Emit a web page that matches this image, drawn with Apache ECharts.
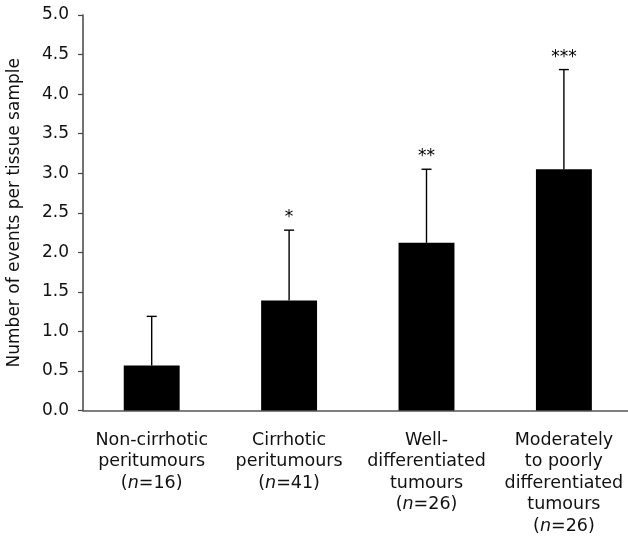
<!DOCTYPE html>
<html><head><meta charset="utf-8">
<script src="https://cdn.jsdelivr.net/npm/echarts@6/dist/echarts.min.js"></script>
<style>html,body{margin:0;padding:0;background:#fff}#c{width:628px;height:541px}</style>
</head><body><div id="c"></div>
<script>
var categories = ['Non-cirrhotic\nperitumours', 'Cirrhotic\nperitumours', 'Well-\ndifferentiated\ntumours', 'Moderately\nto poorly\ndifferentiated\ntumours'];
var sampleSizes = ['16', '41', '26', '26'];
var means = [0.57, 1.39, 2.12, 3.05];
var errorTops = [1.19, 2.28, 3.05, 4.31];
var stars = ['', '*', '**', '***'];
var yTicks = [0, 0.5, 1, 1.5, 2, 2.5, 3, 3.5, 4, 4.5, 5];

var FONT = '"DejaVu Sans", sans-serif';
var chart = echarts.init(document.getElementById('c'), null, {renderer: 'canvas'});
chart.setOption({
  animation: false,
  grid: {left: 83, top: 15, width: 549.6, bottom: 130.5, containLabel: false, outerBoundsMode: 'none'},
  xAxis: {
    type: 'category',
    data: categories.map(function (c, i) { return c + '|' + sampleSizes[i]; }),
    axisLine: {lineStyle: {color: '#555', width: 1.5}},
    axisTick: {show: false},
    axisLabel: {
      interval: 0, margin: 19,
      formatter: function (v) {
        var p = v.split('|');
        var lines = p[0].split('\n').map(function (l) { return '{a|' + l + '}'; });
        lines.push('{a|(}{i|n}{a|=' + p[1] + ')}');
        return lines.join('\n');
      },
      rich: {
        a: {fontFamily: FONT, fontSize: 17.5, color: '#111', lineHeight: 21.5},
        i: {fontFamily: FONT, fontSize: 17.5, color: '#111', lineHeight: 21.5, fontStyle: 'italic'}
      }
    }
  },
  yAxis: {
    type: 'value', min: 0, max: 5, interval: 0.5,
    name: 'Number of events per tissue sample',
    nameLocation: 'middle', nameGap: 60,
    nameTextStyle: {fontFamily: FONT, fontSize: 17, color: '#111'},
    axisLine: {show: true, lineStyle: {color: '#444', width: 1.5}},
    axisTick: {show: true, length: 5, lineStyle: {color: '#444', width: 1.2}},
    splitLine: {show: false},
    axisLabel: {
      margin: 14, fontFamily: FONT, fontSize: 17, color: '#111',
      formatter: function (v) { return v.toFixed(1); }
    }
  },
  series: [
    {
      type: 'bar', data: means, barWidth: '40.7%',
      itemStyle: {color: '#000'}, z: 2
    },
    {
      type: 'custom', z: 3,
      data: means.map(function (m, i) { return [i, m, errorTops[i]]; }),
      renderItem: function (params, api) {
        var i = api.value(0);
        var base = api.coord([i, api.value(1)]);
        var top = api.coord([i, api.value(2)]);
        var half = 5;
        var children = [
          {type: 'line', shape: {x1: base[0], y1: base[1], x2: top[0], y2: top[1]}, style: {stroke: '#000', lineWidth: 1.4}},
          {type: 'line', shape: {x1: top[0] - half, y1: top[1], x2: top[0] + half, y2: top[1]}, style: {stroke: '#000', lineWidth: 1.4}}
        ];
        var s = stars[params.dataIndex];
        if (s) {
          children.push({type: 'text', x: top[0], y: top[1] - 4,
            style: {text: s, fontFamily: FONT, fontSize: 17, fill: '#000', align: 'center', verticalAlign: 'bottom'}});
        }
        return {type: 'group', children: children};
      }
    }
  ]
});
</script></body></html>
